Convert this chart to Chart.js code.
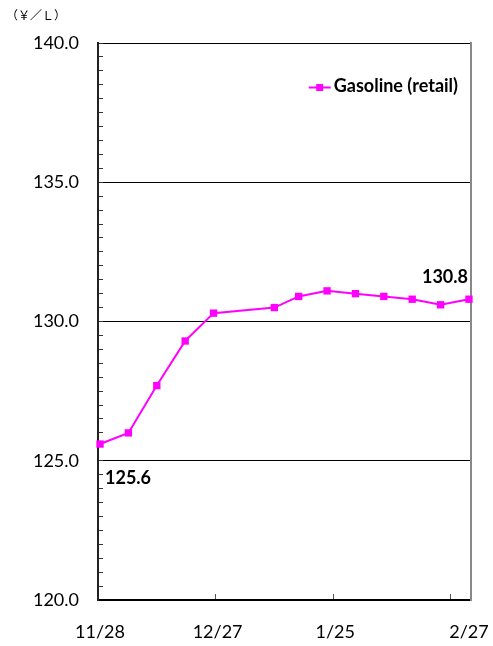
<!DOCTYPE html>
<html>
<head>
<meta charset="utf-8">
<script src="https://cdn.jsdelivr.net/npm/chart.js@4/dist/chart.umd.min.js"></script>
<style>
  html, body { margin: 0; padding: 0; background: #fff; }
  canvas { display: block; }
</style>
</head>
<body>
<canvas id="chart" width="493" height="646"></canvas>
<script>
// Weekly survey dates and retail gasoline price (yen per litre)
const surveyDates = ['2011-11-28', '2011-12-05', '2011-12-12', '2011-12-19', '2011-12-26',
                     '2012-01-10', '2012-01-16', '2012-01-23', '2012-01-30', '2012-02-06',
                     '2012-02-13', '2012-02-20', '2012-02-27'];
const gasolinePrices = [125.6, 126.0, 127.7, 129.3, 130.3,
                        130.5, 130.9, 131.1, 131.0, 130.9,
                        130.8, 130.6, 130.8];

// Date axis labels
const axisLabelDates = ['2011-11-28', '2011-12-27', '2012-01-25', '2012-02-27'];
const axisLabels = ['11/28', '12/27', '1/25', '2/27'];

const seriesName = 'Gasoline (retail)';
const unitText = '（￥／Ｌ）';

const FONT = 'Lato, "DejaVu Sans", sans-serif';
const MAGENTA = '#ff00ff';

// Days counted from the first survey date
const DAY_MS = 86400000;
const t0 = Date.parse(surveyDates[0]);
const dayOf = d => Math.round((Date.parse(d) - t0) / DAY_MS);
const lastDay = dayOf(surveyDates[surveyDates.length - 1]);
const MAJOR_UNIT = 29;  // days between tick marks

const points = surveyDates.map((d, i) => ({ x: dayOf(d), y: gasolinePrices[i] }));
const labelDays = axisLabelDates.map(dayOf);
const markDays = [];
for (let v = -0.5; v < lastDay; v += MAJOR_UNIT) markDays.push(v);

// Unit caption above the value axis
const unitCaption = {
  id: 'unitCaption',
  afterDraw(chart) {
    const ctx = chart.ctx;
    ctx.save();
    ctx.font = '12px "Noto Sans CJK JP", sans-serif';
    ctx.fillStyle = '#000';
    ctx.textBaseline = 'middle';
    ctx.textAlign = 'left';
    ctx.fillText(unitText, 6, 15);
    ctx.restore();
  }
};

// Legend entry inside the plot, top right
const insetLegend = {
  id: 'insetLegend',
  afterDatasetsDraw(chart) {
    const ctx = chart.ctx;
    const area = chart.chartArea;
    const ds = chart.data.datasets[0];
    ctx.save();
    ctx.font = 'bold 18px ' + FONT;
    const w = ctx.measureText(ds.label).width;
    const right = area.right - 13;
    const y = area.top + 44.5;
    const textLeft = right - w;
    ctx.strokeStyle = ds.borderColor;
    ctx.lineWidth = 2;
    ctx.beginPath();
    ctx.moveTo(textLeft - 25, y);
    ctx.lineTo(textLeft - 3, y);
    ctx.stroke();
    ctx.fillStyle = ds.pointBackgroundColor;
    ctx.fillRect(textLeft - 14 - 3.5, y - 3.5, 7, 7);
    ctx.fillStyle = '#000';
    ctx.textBaseline = 'middle';
    ctx.textAlign = 'left';
    ctx.fillText(ds.label, textLeft, y - 1);
    ctx.restore();
  }
};

// Value labels on the first and the latest point
const endLabels = {
  id: 'endLabels',
  afterDatasetsDraw(chart) {
    const ctx = chart.ctx;
    const meta = chart.getDatasetMeta(0);
    const n = gasolinePrices.length;
    ctx.save();
    ctx.font = 'bold 18px ' + FONT;
    ctx.fillStyle = '#000';
    ctx.textAlign = 'center';
    ctx.textBaseline = 'middle';
    const first = meta.data[0];
    ctx.fillText(gasolinePrices[0].toFixed(1), first.x + 28, first.y + 34);
    const last = meta.data[n - 1];
    ctx.fillText(gasolinePrices[n - 1].toFixed(1), last.x - 24, last.y - 22);
    ctx.restore();
  }
};

new Chart(document.getElementById('chart'), {
  type: 'line',
  data: {
    datasets: [{
      label: seriesName,
      data: points,
      borderColor: MAGENTA,
      backgroundColor: MAGENTA,
      pointBackgroundColor: MAGENTA,
      pointBorderColor: MAGENTA,
      borderWidth: 2,
      pointStyle: 'rect',
      pointRadius: 5.2,
      pointBorderWidth: 0,
      tension: 0,
      clip: false
    }]
  },
  options: {
    responsive: false,
    animation: false,
    events: [],
    layout: { padding: { top: 43, right: 22, left: 0, bottom: 0 } },
    plugins: { legend: { display: false }, title: { display: false }, tooltip: { enabled: false } },
    scales: {
      x: {
        type: 'linear',
        position: 'bottom',
        weight: 0,
        min: -0.5,
        max: lastDay + 0.5,
        afterBuildTicks: s => { s.ticks = markDays.map(v => ({ value: v })); },
        afterFit: s => { s.height = 0; s.paddingLeft = 0; s.paddingRight = 0; },
        ticks: { display: false },
        grid: { drawOnChartArea: false, drawTicks: true, tickLength: -6, tickColor: '#555', lineWidth: 1 },
        border: { color: '#000', width: 2 }
      },
      xl: {
        type: 'linear',
        position: 'bottom',
        weight: 1,
        min: -0.5,
        max: lastDay + 0.5,
        afterBuildTicks: s => { s.ticks = labelDays.map(v => ({ value: v })); },
        afterFit: s => { s.height = 46; s.paddingLeft = 0; s.paddingRight = 0; },
        ticks: {
          autoSkip: false,
          maxRotation: 0,
          padding: 21,
          color: '#000',
          font: { family: FONT, size: 18 },
          callback: (v, i) => axisLabels[i]
        },
        grid: { display: false, drawTicks: false },
        border: { display: false }
      },
      y: {
        position: 'left',
        min: 120,
        max: 140,
        afterFit: s => { s.width = 98; },
        ticks: {
          stepSize: 0.5,
          autoSkip: false,
          padding: 24,
          color: '#000',
          font: { family: FONT, size: 18 },
          callback: v => (v % 5 === 0 ? v.toFixed(1) : '')
        },
        grid: {
          color: c => (c.tick && c.tick.value % 5 === 0 && c.tick.value > 120) ? '#000' : 'rgba(0,0,0,0)',
          lineWidth: 1,
          drawTicks: true,
          tickLength: -5,
          tickColor: '#333',
          tickWidth: 1
        },
        border: { color: '#222', width: 2 }
      },
      yr: {
        position: 'right',
        min: 120,
        max: 140,
        afterFit: s => { s.width = 0; },
        ticks: { display: false },
        grid: { drawOnChartArea: false, drawTicks: false },
        border: { color: '#888', width: 2 }
      }
    }
  },
  plugins: [unitCaption, insetLegend, endLabels]
});
</script>
</body>
</html>
